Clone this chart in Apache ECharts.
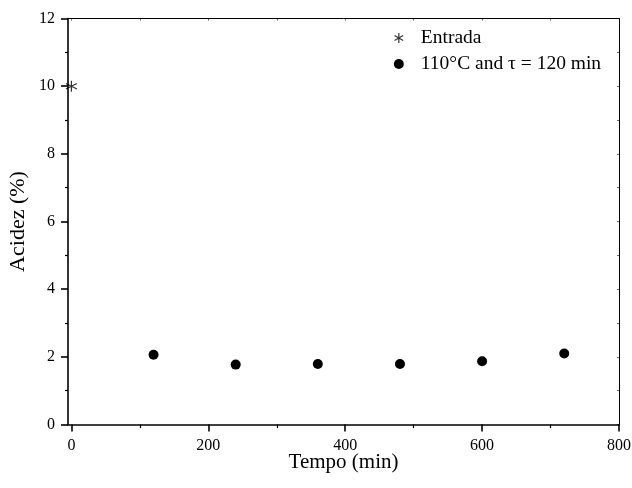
<!DOCTYPE html>
<html>
<head>
<meta charset="utf-8">
<script src="https://cdn.jsdelivr.net/npm/echarts@6/dist/echarts.min.js"></script>
<style>
  html, body { margin: 0; padding: 0; background: #fff; }
  #chart { width: 632px; height: 488px; }
</style>
</head>
<body>
<div id="chart"></div>
<script>
// Acidity of the product over reaction time
const inletTime = [0];
const inletAcidity = [10.0];
const runTimes = [120, 240, 360, 480, 600, 720];
const runAcidity = [2.06, 1.77, 1.79, 1.79, 1.87, 2.10];

const xMajorTicks = [0, 200, 400, 600, 800];
const xMinorTicks = [100, 300, 500, 700];
const yMajorTicks = [0, 2, 4, 6, 8, 10, 12];
const yMinorTicks = [1, 3, 5, 7, 9, 11];

const seriesNames = ['Entrada', '110°C and τ = 120 min'];
const axisTitles = { x: 'Tempo (min)', y: 'Acidez (%)' };

const FONT = '"Liberation Serif", "Times New Roman", serif';
const X_MIN = -5, X_MAX = 800, Y_MIN = 0, Y_MAX = 12;

const asterisk = 'path://M5,0L5,10M0.67,2.5L9.33,7.5M0.67,7.5L9.33,2.5';

const chart = echarts.init(document.getElementById('chart'), null, { renderer: 'canvas' });

function xAxisBase(extra) {
  return Object.assign({
    type: 'value', min: X_MIN, max: X_MAX, gridIndex: 0,
    splitLine: { show: false }
  }, extra);
}
function yAxisBase(extra) {
  return Object.assign({
    type: 'value', min: Y_MIN, max: Y_MAX, gridIndex: 0,
    splitLine: { show: false }
  }, extra);
}

chart.setOption({
  animation: false,
  backgroundColor: '#fff',
  grid: { left: 68, right: 13, top: 18.5, bottom: 63.5, containLabel: false, outerBoundsMode: 'none' },
  legend: {
    orient: 'vertical',
    left: 387, top: 23,
    itemWidth: 10, itemHeight: 10,
    itemGap: 6,
    textStyle: { fontFamily: FONT, fontSize: 19.5, color: '#000', padding: [0, 0, 0, 12], lineHeight: 19 },
    data: [
      { name: seriesNames[0], icon: asterisk, itemStyle: { color: 'none', borderColor: '#000', borderWidth: 1.2 } },
      { name: seriesNames[1], icon: 'circle' }
    ]
  },
  xAxis: [
    xAxisBase({
      position: 'bottom',
      name: axisTitles.x, nameLocation: 'middle', nameGap: 27, nameMoveOverlap: false,
      nameTextStyle: { fontFamily: FONT, fontSize: 21, color: '#000' },
      axisLine: { onZero: false, lineStyle: { color: '#000', width: 1.6 } },
      axisTick: { show: true, inside: false, length: 7, customValues: xMajorTicks, lineStyle: { color: '#000', width: 1.6 } },
      axisLabel: { show: true, customValues: xMajorTicks, margin: 13, fontFamily: FONT, fontSize: 16, color: '#000' }
    }),
    xAxisBase({
      position: 'bottom',
      axisLine: { show: false, onZero: false },
      axisTick: { show: true, inside: false, length: 3.5, customValues: xMinorTicks, lineStyle: { color: '#000', width: 1.2 } },
      axisLabel: { show: false }
    }),
    xAxisBase({
      position: 'top',
      axisLine: { onZero: false, lineStyle: { color: '#000', width: 1 } },
      axisTick: { show: true, inside: true, length: 2, customValues: xMajorTicks.concat(xMinorTicks), lineStyle: { color: '#000', width: 0.6 } },
      axisLabel: { show: false }
    })
  ],
  yAxis: [
    yAxisBase({
      position: 'left',
      name: axisTitles.y, nameLocation: 'middle', nameGap: 39, nameMoveOverlap: false,
      nameTextStyle: { fontFamily: FONT, fontSize: 22, color: '#000' },
      axisLine: { onZero: false, lineStyle: { color: '#000', width: 1.6 } },
      axisTick: { show: true, inside: false, length: 7, customValues: yMajorTicks, lineStyle: { color: '#000', width: 1.6 } },
      axisLabel: { show: true, customValues: yMajorTicks, margin: 13, fontFamily: FONT, fontSize: 16, color: '#000' }
    }),
    yAxisBase({
      position: 'left',
      axisLine: { show: false, onZero: false },
      axisTick: { show: true, inside: false, length: 3, customValues: yMinorTicks, lineStyle: { color: '#000', width: 1.2 } },
      axisLabel: { show: false }
    }),
    yAxisBase({
      position: 'right',
      axisLine: { onZero: false, lineStyle: { color: '#000', width: 1 } },
      axisTick: { show: true, inside: true, length: 2, customValues: yMajorTicks.concat(yMinorTicks), lineStyle: { color: '#000', width: 0.6 } },
      axisLabel: { show: false }
    })
  ],
  series: [
    {
      name: seriesNames[0], type: 'scatter', xAxisIndex: 0, yAxisIndex: 0,
      symbol: asterisk, symbolSize: 11,
      itemStyle: { color: 'none', borderColor: '#000', borderWidth: 1.2 },
      data: inletTime.map((t, i) => [t, inletAcidity[i]]),
      z: 5
    },
    {
      name: seriesNames[1], type: 'scatter', xAxisIndex: 0, yAxisIndex: 0,
      symbol: 'circle', symbolSize: 10,
      itemStyle: { color: '#000', opacity: 1 },
      data: runTimes.map((t, i) => [t, runAcidity[i]]),
      z: 5
    }
  ]
});
</script>
</body>
</html>
